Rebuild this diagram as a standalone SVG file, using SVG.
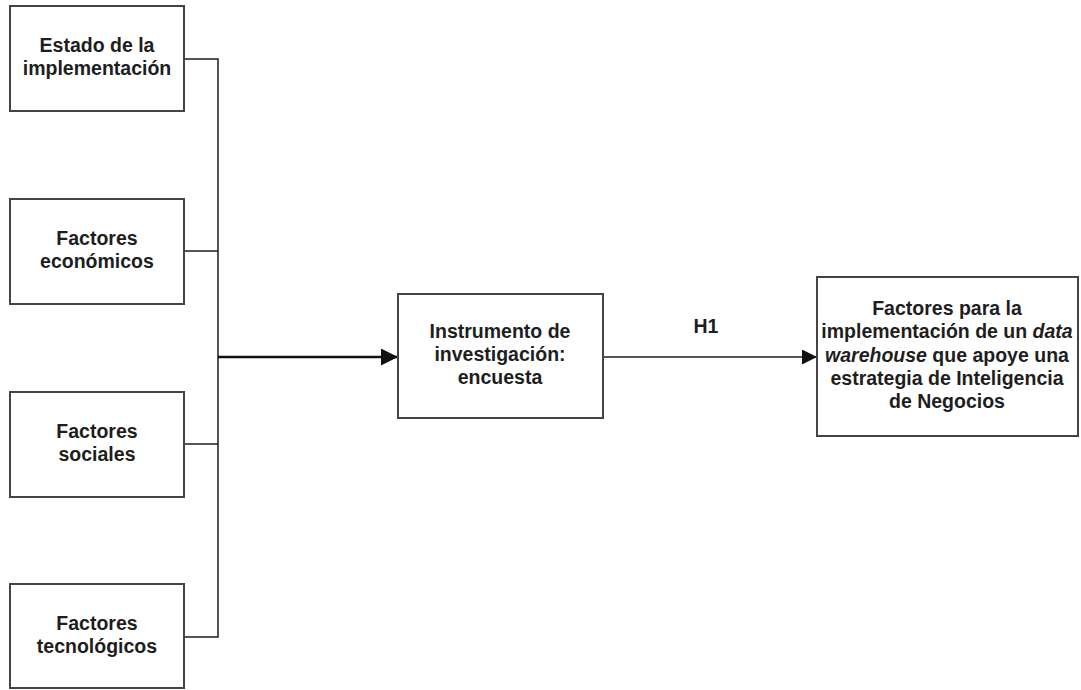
<svg xmlns="http://www.w3.org/2000/svg" width="1081" height="690" viewBox="0 0 1081 690">
  <style>
    .box { fill: #ffffff; stroke: #444444; stroke-width: 2; }
    .lbl { font-family: "Liberation Sans", Arial, sans-serif; font-weight: bold; font-size: 19.5px; fill: #1e1e1e; text-anchor: middle; }
    .wire { fill: none; stroke: #1e1e1e; stroke-width: 1.5; }
    .main { fill: none; stroke: #111111; stroke-width: 2.6; }
  </style>
  <defs>
    <marker id="arrow-main" markerWidth="17" markerHeight="17" refX="17" refY="8.5" orient="auto" markerUnits="userSpaceOnUse">
      <path d="M0,0 L17,8.5 L0,17 Z" fill="#111111"/>
    </marker>
    <marker id="arrow" markerWidth="15" markerHeight="15" refX="15" refY="7.5" orient="auto" markerUnits="userSpaceOnUse">
      <path d="M0,0 L15,7.5 L0,15 Z" fill="#111111"/>
    </marker>
  </defs>
  <rect width="1081" height="690" fill="#ffffff"/>

  <!-- connectors -->
  <g id="connectors">
    <polyline class="wire" points="184,59 218,59 218,637 184,637"/>
    <line class="wire" x1="184" y1="251" x2="218" y2="251"/>
    <line class="wire" x1="184" y1="444" x2="218" y2="444"/>
    <line class="main" x1="218" y1="357" x2="398" y2="357" marker-end="url(#arrow-main)"/>
    <line class="wire" x1="603" y1="357" x2="817" y2="357" marker-end="url(#arrow)"/>
    <text class="lbl" x="706" y="333" font-size="18">H1</text>
  </g>

  <g id="estado">
    <rect class="box" x="10" y="6" width="174" height="105"/>
    <text class="lbl" x="97" y="52">Estado de la</text>
    <text class="lbl" x="97" y="75">implementación</text>
  </g>

  <g id="economicos">
    <rect class="box" x="10" y="199" width="174" height="105"/>
    <text class="lbl" x="97" y="245">Factores</text>
    <text class="lbl" x="97" y="268">económicos</text>
  </g>

  <g id="sociales">
    <rect class="box" x="10" y="392" width="174" height="105"/>
    <text class="lbl" x="97" y="438">Factores</text>
    <text class="lbl" x="97" y="461">sociales</text>
  </g>

  <g id="tecnologicos">
    <rect class="box" x="10" y="584" width="174" height="104"/>
    <text class="lbl" x="97" y="630">Factores</text>
    <text class="lbl" x="97" y="653">tecnológicos</text>
  </g>

  <g id="instrumento">
    <rect class="box" x="398" y="294" width="205" height="124"/>
    <text class="lbl" x="500" y="338">Instrumento de</text>
    <text class="lbl" x="500" y="361">investigación:</text>
    <text class="lbl" x="500" y="384">encuesta</text>
  </g>

  <g id="factores-dw">
    <rect class="box" x="817" y="277" width="261" height="159"/>
    <text class="lbl" x="947" y="315">Factores para la</text>
    <text class="lbl" x="947" y="338">implementación de un <tspan font-style="italic">data</tspan></text>
    <text class="lbl" x="947" y="362"><tspan font-style="italic">warehouse</tspan> que apoye una</text>
    <text class="lbl" x="947" y="385">estrategia de Inteligencia</text>
    <text class="lbl" x="947" y="408">de Negocios</text>
  </g>
</svg>
